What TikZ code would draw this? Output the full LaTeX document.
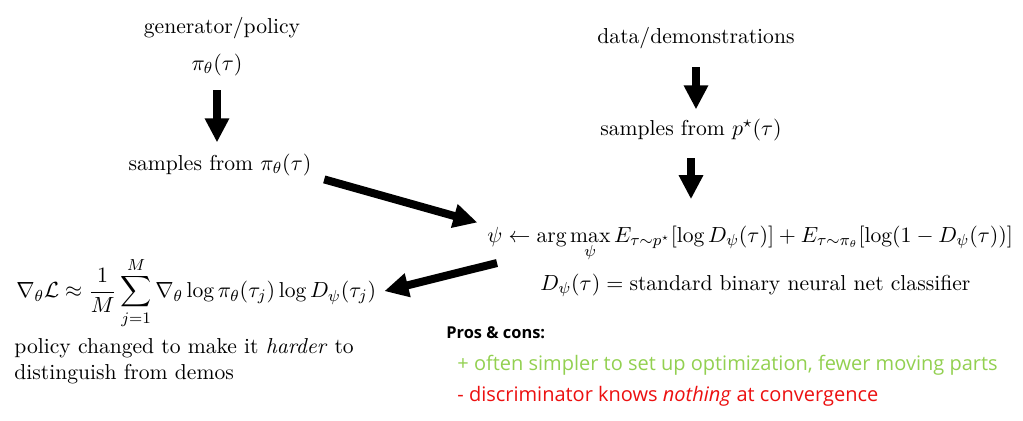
\documentclass[tikz,border=0pt]{standalone}
\usepackage{amsmath}
\usepackage{amssymb}
\usepackage{fontspec}
\usetikzlibrary{arrows.meta}
\newfontfamily\prosfont{Open Sans}
\definecolor{prosgreen}{RGB}{146,208,80}
\definecolor{conred}{RGB}{236,16,16}
\tikzset{
  txt/.style={font=\fontsize{10.8}{13}\selectfont, inner sep=0pt, anchor=base},
  fat/.style={line width=4pt, -{Triangle[width=11.5pt,length=12pt]}},
  pros/.style={font=\prosfont\fontsize{10}{12}\selectfont, inner sep=0pt, anchor=base west},
}

\begin{document}
\begin{tikzpicture}[x=0.5pt,y=-0.5pt,line join=round]
                \useasboundingbox (0,0) rectangle (1023,420);
                % generator side
                \node[txt] (gen) at (222,33) {generator/policy};
                \node[txt] (pi) at (217,70) {$\pi_\theta(\tau)$};
                \node[txt] (samplespi) at (220,170) {samples from $\pi_\theta(\tau)$};
                % data side
                \node[txt] (data) at (696,43) {data/demonstrations};
                \node[txt] (samplesp) at (691,135) {samples from $p^\star(\tau)$};
                % discriminator
                \node[txt, anchor=base west] (argmax) at (487,242) {$\displaystyle \psi \leftarrow \arg\max_{\psi} E_{\tau\sim p^\star}[\log D_\psi(\tau)] + E_{\tau\sim\pi_\theta}[\log(1-D_\psi(\tau))]$};
                \node[txt, anchor=base west] (disc) at (540,290) {$D_\psi(\tau) = \text{standard binary neural net classifier}$};
                \coordinate (critic) at (497,263);
                % policy gradient
                \node[txt, anchor=west] (grad) at (16,293) {$\displaystyle \nabla_\theta\mathcal{L} \approx \frac{1}{M}\sum_{j=1}^{M}\nabla_\theta\log\pi_\theta(\tau_j)\log D_\psi(\tau_j)$};
                \node[txt, anchor=north west, align=left] (note) at (14,338) {policy changed to make it \textit{harder} to\\distinguish from demos};
                % pros and cons
                \node[pros, font=\prosfont\fontsize{8.2}{10}\selectfont] (proscons) at (446,338) {\textbf{Pros \& cons:}};
                \node[pros, text=prosgreen] (pro) at (457,370) {+ often simpler to set up optimization, fewer moving parts};
                \node[pros, text=conred] (con) at (457,401) {- discriminator knows \textit{nothing} at convergence};
                % arrows
                \draw[fat, shorten <=7.3pt, shorten >=5.4pt] (pi.south) -- (pi.south |- samplespi.north);
                \draw[fat, shorten <=9.3pt, shorten >=4.4pt] (data.south) -- (data.south |- samplesp.north);
                \draw[fat, shorten <=8.8pt, shorten >=13pt] (samplesp.south) -- (samplesp.south |- argmax.north);
                \draw[fat, shorten <=6.5pt, shorten >=5pt] (samplespi.south east) -- (argmax.north west);
                \draw[fat, shorten >=4pt] (critic) -- (grad.east);
                \end{tikzpicture}
\end{document}
